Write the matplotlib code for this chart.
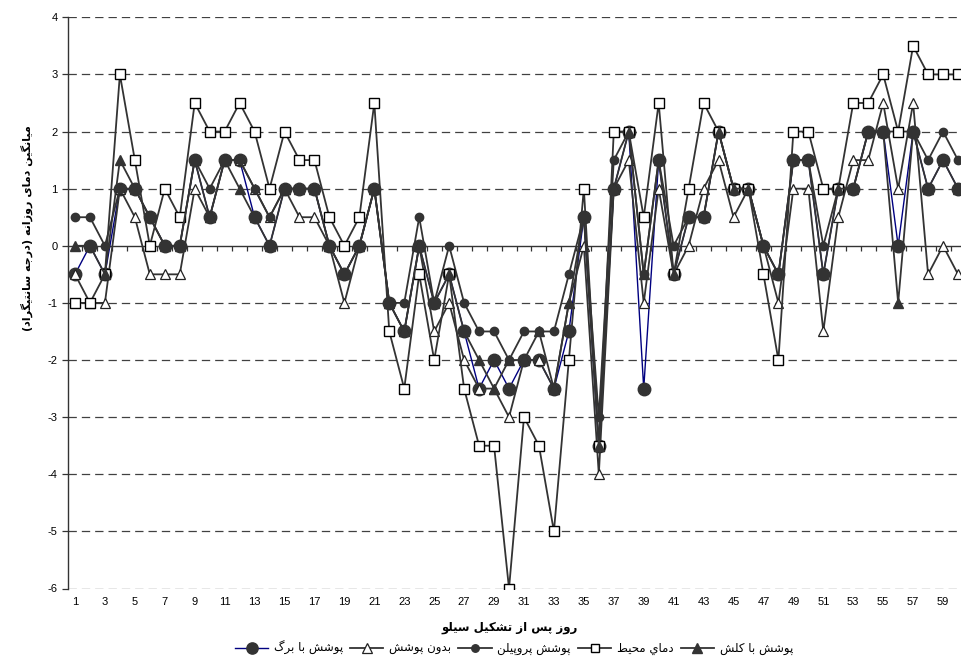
import numpy as np
import matplotlib
matplotlib.use("Agg")
import matplotlib.pyplot as plt

# ---------------- data ----------------
days = list(range(1, 61))
y_ticks = [4, 3, 2, 1, 0, -1, -2, -3, -4, -5, -6]
x_ticklabels = list(range(1, 60, 2))

big_leaf = [-0.5, 0, -0.5, 1, 1, 0.5, 0, 0, 1.5, 0.5,
            1.5, 1.5, 0.5, 0, 1, 1, 1, 0, -0.5, 0,
            1, -1, -1.5, 0, -1, -0.5, -1.5, -2.5, -2, -2.5,
            -2, -2, -2.5, -1.5, 0.5, -3.5, 1, 2, -2.5, 1.5,
            -0.5, 0.5, 0.5, 2, 1, 1, 0, -0.5, 1.5, 1.5,
            -0.5, 1, 1, 2, 2, 0, 2, 1, 1.5, 1]
no_cover = [-0.5, -1, -1, 1, 0.5, -0.5, -0.5, -0.5, 1, 0.5,
            1.5, 1.5, 1, 0.5, 1, 0.5, 0.5, 0, -1, 0,
            1, -1, -1.5, 0, -1.5, -1, -2, -2.5, -2.5, -3,
            -2, -2, -2.5, -1, 0, -4, 1, 1.5, -1, 1,
            -0.5, 0, 1, 1.5, 0.5, 1, 0, -1, 1, 1,
            -1.5, 0.5, 1.5, 1.5, 2.5, 1, 2.5, -0.5, 0, -0.5]
propylene = [0.5, 0.5, 0, 1, 1, 0.5, 0, 0, 1.5, 1,
             1.5, 1.5, 1, 0.5, 1, 1, 1, 0, -0.5, 0,
             1, -1, -1, 0.5, -1, 0, -1, -1.5, -1.5, -2,
             -1.5, -1.5, -1.5, -0.5, 0.5, -3, 1.5, 2, -0.5, 1.5,
             0, 0.5, 0.5, 2, 1, 1, 0, -0.5, 1.5, 1.5,
             0, 1, 1, 2, 2, 2, 2, 1.5, 2, 1.5]
ambient = [-1, -1, -0.5, 3, 1.5, 0, 1, 0.5, 2.5, 2,
           2, 2.5, 2, 1, 2, 1.5, 1.5, 0.5, 0, 0.5,
           2.5, -1.5, -2.5, -0.5, -2, -0.5, -2.5, -3.5, -3.5, -6,
           -3, -3.5, -5, -2, 1, -3.5, 2, 2, 0.5, 2.5,
           -0.5, 1, 2.5, 2, 1, 1, -0.5, -2, 2, 2,
           1, 1, 2.5, 2.5, 3, 2, 3.5, 3, 3, 3]
straw = [0, 0, -0.5, 1.5, 1, 0.5, 0, 0, 1.5, 0.5,
         1.5, 1, 0.5, 0, 1, 1, 1, 0, -0.5, 0,
         1, -1, -1.5, 0, -1, -0.5, -1.5, -2, -2.5, -2,
         -2, -1.5, -2.5, -1, 0.5, -3.5, 1, 2, -0.5, 1.5,
         -0.5, 0.5, 0.5, 2, 1, 1, 0, -0.5, 1.5, 1.5,
         -0.5, 1, 1, 2, 2, -1, 2, 1, 1.5, 1]

label_big = "پوشش با برگ"
label_none = "بدون پوشش"
label_prop = "پوشش پروپیلن"
label_amb = "دماي محيط"
label_straw = "پوشش با کلش"
x_title = "روز پس از تشکیل سیلو"
y_title = "میانگین دمای روزانه (درجه سانتیگراد)"

# ---------------- minimal Arabic/Persian shaping ----------------
# (isolated, final, initial, medial); None => letter does not join to the next one
FORMS = {
    '\u0627': ('\uFE8D', '\uFE8E', None, None),
    '\u0628': ('\uFE8F', '\uFE90', '\uFE91', '\uFE92'),
    '\u067E': ('\uFB56', '\uFB57', '\uFB58', '\uFB59'),
    '\u062A': ('\uFE95', '\uFE96', '\uFE97', '\uFE98'),
    '\u062B': ('\uFE99', '\uFE9A', '\uFE9B', '\uFE9C'),
    '\u062C': ('\uFE9D', '\uFE9E', '\uFE9F', '\uFEA0'),
    '\u0686': ('\uFB7A', '\uFB7B', '\uFB7C', '\uFB7D'),
    '\u062D': ('\uFEA1', '\uFEA2', '\uFEA3', '\uFEA4'),
    '\u062E': ('\uFEA5', '\uFEA6', '\uFEA7', '\uFEA8'),
    '\u062F': ('\uFEA9', '\uFEAA', None, None),
    '\u0630': ('\uFEAB', '\uFEAC', None, None),
    '\u0631': ('\uFEAD', '\uFEAE', None, None),
    '\u0632': ('\uFEAF', '\uFEB0', None, None),
    '\u0698': ('\uFB8A', '\uFB8B', None, None),
    '\u0633': ('\uFEB1', '\uFEB2', '\uFEB3', '\uFEB4'),
    '\u0634': ('\uFEB5', '\uFEB6', '\uFEB7', '\uFEB8'),
    '\u0635': ('\uFEB9', '\uFEBA', '\uFEBB', '\uFEBC'),
    '\u0637': ('\uFEC1', '\uFEC2', '\uFEC3', '\uFEC4'),
    '\u0639': ('\uFEC9', '\uFECA', '\uFECB', '\uFECC'),
    '\u063A': ('\uFECD', '\uFECE', '\uFECF', '\uFED0'),
    '\u0641': ('\uFED1', '\uFED2', '\uFED3', '\uFED4'),
    '\u0642': ('\uFED5', '\uFED6', '\uFED7', '\uFED8'),
    '\u0643': ('\uFED9', '\uFEDA', '\uFEDB', '\uFEDC'),
    '\u06A9': ('\uFB8E', '\uFB8F', '\uFB90', '\uFB91'),
    '\u06AF': ('\uFB92', '\uFB93', '\uFB94', '\uFB95'),
    '\u0644': ('\uFEDD', '\uFEDE', '\uFEDF', '\uFEE0'),
    '\u0645': ('\uFEE1', '\uFEE2', '\uFEE3', '\uFEE4'),
    '\u0646': ('\uFEE5', '\uFEE6', '\uFEE7', '\uFEE8'),
    '\u0647': ('\uFEE9', '\uFEEA', '\uFEEB', '\uFEEC'),
    '\u0648': ('\uFEED', '\uFEEE', None, None),
    '\u064A': ('\uFEF1', '\uFEF2', '\uFEF3', '\uFEF4'),
    '\u06CC': ('\uFBFC', '\uFBFD', '\uFBFE', '\uFBFF'),
}
MIRROR = {'(': ')', ')': '('}


def rtl(text):
    out = []
    n = len(text)
    for i, c in enumerate(text):
        if c not in FORMS:
            out.append(c)
            continue
        prev = text[i - 1] if i > 0 else ''
        nxt = text[i + 1] if i < n - 1 else ''
        jp = prev in FORMS and FORMS[prev][2] is not None
        jn = nxt in FORMS and FORMS[c][2] is not None
        iso, fin, ini, med = FORMS[c]
        if jp and jn:
            out.append(med)
        elif jp:
            out.append(fin)
        elif jn:
            out.append(ini)
        else:
            out.append(iso)
    return ''.join(MIRROR.get(ch, ch) for ch in reversed(out))


# ---------------- figure ----------------
plt.rcParams['lines.scale_dashes'] = False
W, H = 961, 658
fig = plt.figure(figsize=(W / 100, H / 100), dpi=100)
left_px, right_px, top_px, bot_px = 67.5, 965.5, 17.3, 588.5
ax = fig.add_axes([left_px / W, 1 - bot_px / H, (right_px - left_px) / W, (bot_px - top_px) / H])
ax.set_xlim(0.5, 60.5)
ax.set_ylim(-6, 4)

axis_col = '#333333'
for y in y_ticks:
    if y != 0:
        ax.axhline(y, color='#404040', lw=0.9, dashes=(6, 3.6), zorder=0.5)

for s in ['top', 'right']:
    ax.spines[s].set_visible(False)
ax.spines['left'].set_color(axis_col)
ax.spines['left'].set_linewidth(1.0)
ax.spines['bottom'].set_position(('data', 0))
ax.spines['bottom'].set_color(axis_col)
ax.spines['bottom'].set_linewidth(1.0)

ax.set_yticks(y_ticks)
ax.set_yticklabels([str(v) for v in y_ticks], family='Liberation Sans', fontsize=8)
ax.tick_params(axis='y', direction='out', length=4, width=0.9, color=axis_col, pad=3)

ax.set_xticks(np.arange(1.5, 60.5, 1))
ax.set_xticklabels([])
ax.tick_params(axis='x', direction='out', length=3.5, width=0.9, color=axis_col)

sec = ax.secondary_xaxis('bottom')
sec.spines['bottom'].set_visible(False)
sec.set_xticks(x_ticklabels)
sec.set_xticklabels([str(v) for v in x_ticklabels], family='Liberation Sans', fontsize=8)
sec.tick_params(axis='x', length=0, pad=6)

line_col = '#333333'
fill_col = '#333333'
ax.plot(days, big_leaf, color='#000080', lw=1.0, marker='o', ms=9,
        mfc=fill_col, mec=fill_col, label=rtl(label_big), zorder=3)
ax.plot(days, no_cover, color=line_col, lw=1.3, marker='^', ms=7.5,
        mfc='white', mec='#222222', mew=0.9, label=rtl(label_none), zorder=4)
ax.plot(days, propylene, color=line_col, lw=1.3, marker='o', ms=6,
        mfc=fill_col, mec=fill_col, label=rtl(label_prop), zorder=5)
ax.plot(days, ambient, color=line_col, lw=1.3, marker='s', ms=6.8,
        mfc='white', mec='black', mew=1.0, label=rtl(label_amb), zorder=6)
ax.plot(days, straw, color=line_col, lw=1.3, marker='^', ms=7.5,
        mfc=fill_col, mec=fill_col, label=rtl(label_straw), zorder=7)

fig.text(510 / W, 1 - 628 / H, rtl(x_title), ha='center', va='center',
         family='DejaVu Sans', fontweight='bold', fontsize=8.5)
fig.text(27 / W, 1 - 228 / H, rtl(y_title), ha='center', va='center', rotation=90,
         family='DejaVu Sans', fontweight='bold', fontsize=8)

leg = fig.legend(loc='center', bbox_to_anchor=(514 / W, 1 - 648 / H), ncol=5,
                 frameon=False, prop={'family': 'DejaVu Sans', 'size': 8.5},
                 handlelength=2.8, handletextpad=0.5, columnspacing=0.6,
                 borderaxespad=0, borderpad=0)
for h in leg.legend_handles:
    h.set_markersize(h.get_markersize() * 0.9)

fig.savefig('out.png', dpi=100)
